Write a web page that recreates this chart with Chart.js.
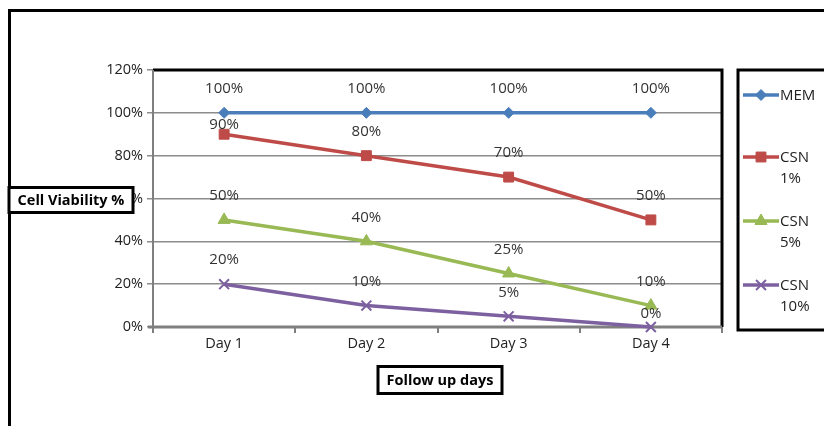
<!DOCTYPE html>
<html>
<head>
<meta charset="utf-8">
<script src="https://cdn.jsdelivr.net/npm/chart.js@4.4.1/dist/chart.umd.min.js"></script>
<style>
  html, body { margin: 0; padding: 0; background: #fff; }
  #wrap { position: relative; width: 824px; height: 426px; overflow: hidden; }
  #frame { position: absolute; left: 8px; top: 9px; width: 900px; height: 500px; border: 3px solid #000; box-sizing: border-box; }
  canvas { position: absolute; left: 0; top: 0; }
</style>
</head>
<body>
<div id="wrap">
  <div id="frame"></div>
  <canvas id="c" width="824" height="426"></canvas>
</div>
<script>
// Follow-up days and viability (%) per treatment group
const days = ['Day 1', 'Day 2', 'Day 3', 'Day 4'];
const memValues = [100, 100, 100, 100];
const csn1Values = [90, 80, 70, 50];
const csn5Values = [50, 40, 25, 10];
const csn10Values = [20, 10, 5, 0];
const seriesNames = [['MEM'], ['CSN', '1%'], ['CSN', '5%'], ['CSN', '10%']];
const yTicks = [0, 20, 40, 60, 80, 100, 120];
const yTitle = 'Cell Viability %';
const xTitle = 'Follow up days';

const FONT = '"Open Sans", "Liberation Sans", sans-serif';
const colors = ['#4A7EBB', '#BE4B48', '#98B954', '#7D60A0'];
const markers = ['rectRot', 'rect', 'triangle', 'crossRot'];
const radii = [5.5, 7, 7, 7];
const markerBorder = [1, 1, 1, 2];

const allSeries = [memValues, csn1Values, csn5Values, csn10Values];
const datasets = allSeries.map((vals, i) => ({
  label: seriesNames[i].join(' '),
  data: vals,
  borderColor: colors[i],
  backgroundColor: colors[i],
  pointBackgroundColor: colors[i],
  pointBorderColor: colors[i],
  pointStyle: markers[i],
  pointRadius: radii[i],
  pointBorderWidth: markerBorder[i],
  borderWidth: 3.5,
  tension: 0,
  clip: false
}));

// value labels drawn above each point; a few are nudged down where they would collide
const labelPlugin = {
  id: 'valueLabels',
  afterDatasetsDraw(chart) {
    const ctx = chart.ctx;
    ctx.save();
    ctx.font = '15px ' + FONT;
    ctx.fillStyle = '#333';
    ctx.textAlign = 'center';
    ctx.textBaseline = 'middle';
    const nudge = { '1-0': 14, '3-3': 11 };
    chart.data.datasets.forEach((ds, di) => {
      const meta = chart.getDatasetMeta(di);
      meta.data.forEach((pt, pi) => {
        const dy = -24 + (nudge[di + '-' + pi] || 0);
        ctx.fillText(ds.data[pi] + '%', pt.x, pt.y + dy);
      });
    });
    ctx.restore();
  }
};

// plot frame, boxed axis titles and the boxed legend
const decorPlugin = {
  id: 'decor',
  beforeDatasetsDraw(chart) {
    const { ctx, chartArea: a } = chart;
    ctx.save();
    ctx.strokeStyle = '#000';
    ctx.lineWidth = 3;
    ctx.beginPath();
    ctx.moveTo(a.left, a.top);
    ctx.lineTo(a.right, a.top);
    ctx.lineTo(a.right, a.bottom);
    ctx.stroke();
    ctx.strokeStyle = '#7f7f7f';
    ctx.lineWidth = 2;
    ctx.beginPath();
    ctx.moveTo(a.left, a.top);
    ctx.lineTo(a.left, a.bottom);
    ctx.stroke();
    ctx.lineWidth = 3;
    ctx.beginPath();
    ctx.moveTo(a.left - 5, a.bottom);
    ctx.lineTo(a.right, a.bottom);
    ctx.stroke();
    ctx.restore();
  },
  afterDraw(chart) {
    const { ctx, chartArea: a } = chart;
    ctx.save();
    // axis titles in boxes
    ctx.font = 'bold 14.5px ' + FONT;
    ctx.textBaseline = 'middle';
    ctx.textAlign = 'center';
    const boxTitle = (text, cx, cy, w, h) => {
      ctx.fillStyle = '#fff';
      ctx.fillRect(cx - w / 2, cy - h / 2, w, h);
      ctx.strokeStyle = '#000';
      ctx.lineWidth = 3;
      ctx.strokeRect(cx - w / 2, cy - h / 2, w, h);
      ctx.fillStyle = '#000';
      ctx.fillText(text, cx, cy + 1);
    };
    boxTitle(yTitle, 71, 200, 124, 25);
    boxTitle(xTitle, 440, 380, 124, 27);

    // legend
    const lx = 738, ly = a.top, lw = 100, lh = 260;
    ctx.strokeStyle = '#000';
    ctx.lineWidth = 3;
    ctx.strokeRect(lx, ly, lw, lh);
    const rows = [95, 157, 221, 285];
    ctx.font = '15px ' + FONT;
    ctx.textAlign = 'left';
    chart.data.datasets.forEach((ds, i) => {
      const y = rows[i];
      ctx.strokeStyle = colors[i];
      ctx.lineWidth = 3.5;
      ctx.beginPath();
      ctx.moveTo(743, y);
      ctx.lineTo(779, y);
      ctx.stroke();
      ctx.fillStyle = colors[i];
      ctx.strokeStyle = colors[i];
      ctx.lineWidth = markerBorder[i];
      Chart.helpers.drawPoint(ctx, {
        pointStyle: markers[i], radius: radii[i], borderWidth: markerBorder[i], rotation: 0
      }, 761, y);
      ctx.fillStyle = '#222';
      seriesNames[i].forEach((line, k) => ctx.fillText(line, 780, y + 1 + k * 21));
    });
    ctx.restore();
  }
};

const chart = new Chart(document.getElementById('c'), {
  type: 'line',
  data: { labels: days, datasets },
  options: {
    responsive: false,
    animation: false,
    devicePixelRatio: 1,
    layout: { padding: { left: 0, top: 70, right: 102, bottom: 0 } },
    plugins: { legend: { display: false }, tooltip: { enabled: false } },
    scales: {
      x: {
        offset: true,
        afterFit(s) { s.height = 99; },
        grid: { offset: true, drawOnChartArea: false, drawTicks: true, tickLength: 6, color: '#7f7f7f', lineWidth: 2 },
        border: { display: false },
        ticks: { font: { family: FONT, size: 14.5 }, color: '#222', padding: 2 }
      },
      y: {
        min: 0, max: 120,
        afterFit(s) { s.width = 153; },
        afterBuildTicks(s) { s.ticks = yTicks.map(v => ({ value: v })); },
        grid: { color: '#8c8c8c', lineWidth: 1.5, tickLength: 6, drawTicks: true },
        border: { display: false },
        ticks: { font: { family: FONT, size: 14.5 }, color: '#222', padding: 4, callback: v => v + '%' }
      }
    }
  },
  plugins: [decorPlugin, labelPlugin]
});
</script>
</body>
</html>
